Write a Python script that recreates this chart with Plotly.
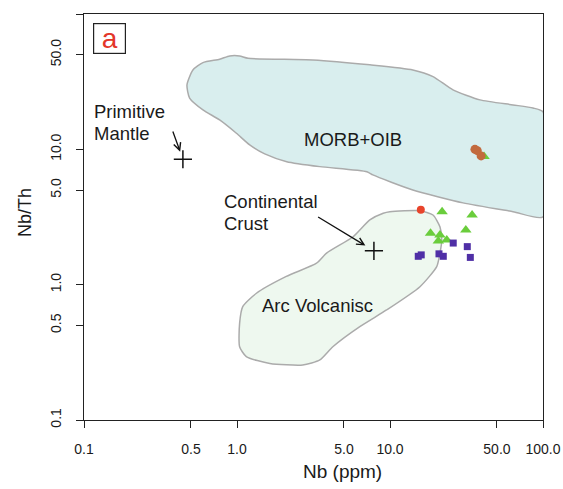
import numpy as np
import plotly.graph_objects as go

# --- field outlines (Nb ppm, Nb/Th) ---
morb_nb = [0.471, 0.515, 0.599, 0.770, 0.896, 1.04, 1.18, 3.13, 7.39, 14.1, 19.1, 25.8,
           38.7, 63.7, 86.1, 100, 100, 63.7, 30.0, 14.1, 7.73, 7.06, 3.48, 2.115, 1.518,
           1.211, 0.991, 0.770, 0.599, 0.490]
morb_ratio = [29.9, 38.6, 43.7, 46.3, 49.0, 49.0, 47.1, 45.8, 42.1, 38.6, 34.5, 27.5,
              23.2, 21.3, 20.2, 18.9, 3.17, 3.46, 4.02, 5.01, 6.47, 6.84, 7.45, 8.11, 9.25,
              10.78, 13.15, 16.49, 19.55, 23.9]

arc_nb = [9.03, 9.98, 15.7, 19.1, 21.2, 21.8, 21.2, 20.2, 15.7, 9.5, 6.35, 4.23, 3.48,
          2.69, 1.64, 1.15, 1.04, 1.04, 1.09, 1.34, 2.10, 3.31, 3.85, 5.74, 7.38]
arc_ratio = [3.37, 3.46, 3.52, 3.27, 2.68, 2.14, 1.71, 1.36, 0.966, 0.650, 0.490, 0.348,
             0.278, 0.255, 0.262, 0.294, 0.348, 0.518, 0.688, 0.864, 1.15, 1.44, 1.71,
             2.26, 3.01]

# --- reference compositions ---
pm_nb, pm_ratio = 0.443, 8.45      # Primitive Mantle
cc_nb, cc_ratio = 7.85, 1.78       # Continental Crust

# --- samples ---
brown_nb = [35.9, 37.2, 39.4]
brown_ratio = [10.0, 9.78, 8.94]

red_nb = [15.9]
red_ratio = [3.58]

green_nb = [41.2, 21.9, 34.4, 31.3, 18.4, 21.2, 20.7, 23.5]
green_ratio = [8.87, 3.46, 3.27, 2.54, 2.40, 2.33, 2.10, 2.14]

purple_nb = [15.3, 16.0, 20.9, 22.3, 25.9, 32.0, 33.5]
purple_ratio = [1.62, 1.66, 1.69, 1.62, 2.03, 1.91, 1.59]

tick_vals = [0.1, 0.5, 1, 5, 10, 50, 100]
x_tick_text = ["0.1", "0.5", "1.0", "5.0", "10.0", "50.0", "100.0"]
y_tick_text = ["0.1", "0.5", "1.0", "5.0", "10.0", "50.0", ""]

FONT = "Liberation Sans, Arial, sans-serif"
BORDER = "#ababab"

fig = go.Figure()

fig.add_trace(go.Scatter(
    x=morb_nb + [morb_nb[0]], y=morb_ratio + [morb_ratio[0]], mode="lines",
    fill="toself", fillcolor="#d9eeee",
    line=dict(color=BORDER, width=1.5, shape="spline", smoothing=0.6),
    hoverinfo="skip", showlegend=False))

fig.add_trace(go.Scatter(
    x=arc_nb + [arc_nb[0]], y=arc_ratio + [arc_ratio[0]], mode="lines",
    fill="toself", fillcolor="#eef8ef",
    line=dict(color=BORDER, width=1.5, shape="spline", smoothing=0.6),
    hoverinfo="skip", showlegend=False))

fig.add_trace(go.Scatter(
    x=[pm_nb, cc_nb], y=[pm_ratio, cc_ratio], mode="markers",
    marker=dict(symbol="cross-thin", size=13, line=dict(color="#111111", width=1.5)),
    showlegend=False))

fig.add_trace(go.Scatter(
    x=green_nb, y=green_ratio, mode="markers",
    marker=dict(symbol="triangle-up", size=10, color="#6acd3c"),
    showlegend=False))

fig.add_trace(go.Scatter(
    x=purple_nb, y=purple_ratio, mode="markers",
    marker=dict(symbol="square", size=7, color="#4f2fa6"),
    showlegend=False))

fig.add_trace(go.Scatter(
    x=brown_nb, y=brown_ratio, mode="markers",
    marker=dict(symbol="circle", size=9, color="#c26a3e"),
    showlegend=False))

fig.add_trace(go.Scatter(
    x=red_nb, y=red_ratio, mode="markers",
    marker=dict(symbol="circle", size=8, color="#e8442b"),
    showlegend=False))

lg = np.log10
annotations = [
    # field and reference labels
    dict(x=lg(0.1136), y=lg(19.0), text="Primitive", xanchor="left", yanchor="middle"),
    dict(x=lg(0.1136), y=lg(13.15), text="Mantle", xanchor="left", yanchor="middle"),
    dict(x=lg(5.72), y=lg(11.88), text="MORB+OIB", xanchor="center", yanchor="middle"),
    dict(x=lg(0.803), y=lg(4.11), text="Continental", xanchor="left", yanchor="middle"),
    dict(x=lg(0.803), y=lg(2.84), text="Crust", xanchor="left", yanchor="middle"),
    dict(x=lg(3.35), y=lg(0.696), text="Arc Volcanisc", xanchor="center", yanchor="middle"),
]
for a in annotations:
    a.update(xref="x", yref="y", showarrow=False,
             font=dict(family=FONT, size=18.5, color="#1a1a1a"))

# arrows pointing at the reference compositions
annotations += [
    dict(x=lg(pm_nb), y=lg(pm_ratio), xref="x", yref="y", text="",
         showarrow=True, ax=-10.6, ay=-29.3, axref="pixel", ayref="pixel",
         arrowhead=5, arrowsize=1.1, arrowwidth=1.3, arrowcolor="#111111", standoff=8),
    dict(x=lg(cc_nb), y=lg(cc_ratio), xref="x", yref="y", text="",
         showarrow=True, ax=-57.3, ay=-34.7, axref="pixel", ayref="pixel",
         arrowhead=5, arrowsize=1.1, arrowwidth=1.3, arrowcolor="#111111", standoff=10),
]

# panel letter
annotations.append(dict(
    x=0.0556, y=0.9387, xref="paper", yref="paper", text="a", showarrow=False,
    xanchor="center", yanchor="middle", width=31, height=29,
    bordercolor="#222222", borderwidth=1.2, borderpad=0,
    font=dict(family=FONT, size=28, color="#e3362a")))

# axis titles
annotations += [
    dict(x=0.564, y=-0.128, xref="paper", yref="paper", text="Nb (ppm)",
         showarrow=False, xanchor="center", yanchor="middle",
         font=dict(family=FONT, size=19, color="#1a1a1a")),
    dict(x=-0.1285, y=0.51, xref="paper", yref="paper", text="Nb/Th",
         showarrow=False, xanchor="center", yanchor="middle", textangle=-90,
         font=dict(family=FONT, size=18, color="#1a1a1a")),
]

axis_common = dict(
    type="log", range=[-1, 2], tickvals=tick_vals, automargin=False,
    showgrid=False, zeroline=False,
    showline=True, linecolor="#222222", linewidth=1.3, mirror=True,
    ticks="outside", ticklen=7, tickwidth=1.3, tickcolor="#222222",
    tickfont=dict(family=FONT, size=14, color="#1a1a1a"),
)

fig.update_layout(
    width=563, height=489,
    margin=dict(l=84, r=20, t=14, b=69, autoexpand=False),
    paper_bgcolor="white", plot_bgcolor="white",
    xaxis=dict(**axis_common, ticktext=x_tick_text, ticklabelstandoff=9),
    yaxis=dict(**axis_common, ticktext=y_tick_text, tickangle=-90, ticklabelstandoff=9),
    annotations=annotations,
)

fig.write_html("out.html")
